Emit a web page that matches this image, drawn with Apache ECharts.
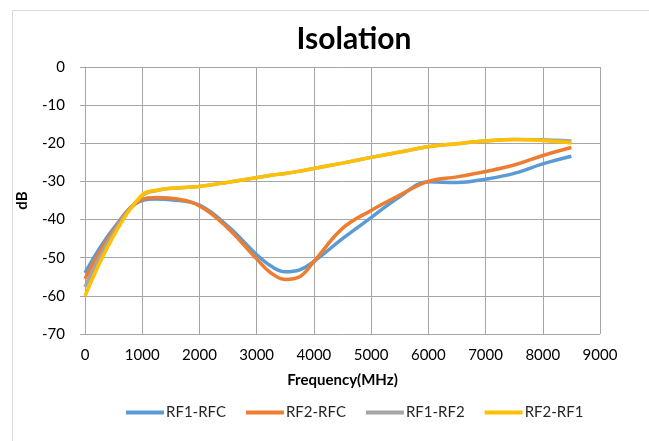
<!DOCTYPE html>
<html>
<head>
<meta charset="utf-8">
<script src="https://cdn.jsdelivr.net/npm/echarts@6/dist/echarts.min.js"></script>
<style>
html,body{margin:0;padding:0;background:#fff;}
#chart{width:649px;height:441px;}
</style>
</head>
<body>
<div id="chart"></div>
<script>
var freq = [0, 500, 1000, 1250, 1500, 2000, 2500, 3000, 3250, 3500, 3750, 4000, 4500, 5000, 5500, 6000, 6500, 7000, 7500, 8000, 8500];
var rf1Rfc = [-54.0, -42.3, -35.0, -34.6, -34.8, -36.2, -41.8, -49.2, -52.2, -53.7, -53.2, -51.0, -45.0, -39.5, -34.0, -30.1, -30.3, -29.4, -27.9, -25.4, -23.4];
var rf2Rfc = [-55.5, -42.8, -34.7, -34.2, -34.4, -36.4, -42.3, -50.3, -54.0, -55.7, -55.0, -51.0, -42.3, -37.6, -33.6, -30.0, -28.8, -27.4, -25.7, -23.2, -21.1];
var rf1Rf2 = [-57.7, -43.4, -33.7, -32.4, -31.8, -31.3, -30.2, -29.0, -28.4, -27.9, -27.3, -26.6, -25.2, -23.7, -22.3, -20.9, -20.1, -19.4, -19.0, -19.1, -19.4];
var rf2Rf1 = [-60.0, -44.3, -33.5, -32.3, -31.8, -31.3, -30.2, -29.0, -28.4, -27.9, -27.3, -26.6, -25.2, -23.7, -22.3, -20.9, -20.1, -19.4, -19.0, -19.3, -19.9];
var seriesNames = ['RF1-RFC', 'RF2-RFC', 'RF1-RF2', 'RF2-RF1'];
var seriesColors = ['#5B9BD5', '#ED7D31', '#A5A5A5', '#FFC000'];
var xTicks = [0, 1000, 2000, 3000, 4000, 5000, 6000, 7000, 8000, 9000];
var yTicks = [0, -10, -20, -30, -40, -50, -60, -70];

var FONT = 'Lato';
var allVals = [rf1Rfc, rf2Rfc, rf1Rf2, rf2Rf1];
function pairs(v){ return freq.map(function(f,i){ return [f, v[i]]; }); }

var chart = echarts.init(document.getElementById('chart'), null, {renderer:'canvas'});
chart.setOption({
  animation:false,
  backgroundColor:'#ffffff',
  textStyle:{fontFamily:FONT},
  graphic:[{
    type:'rect', left:10, top:8, shape:{width:700, height:500},
    style:{fill:'none', stroke:'#d9d9d9', lineWidth:1}, silent:true, z:-10
  }],
  title:{
    text:'Isolation', left:349, top:19, textAlign:'center',
    textStyle:{fontFamily:FONT, fontWeight:'bold', fontSize:30, color:'#000'}
  },
  legend:{
    bottom:16, left:121,
    icon:'rect', itemWidth:38, itemHeight:4, itemGap:20,
    textStyle:{fontFamily:FONT, fontSize:15, color:'#262626', padding:[0,0,0,-3]},
    data:seriesNames
  },
  grid:{left:85, right:49, top:67, bottom:107, containLabel:false},
  xAxis:{
    type:'value', min:0, max:9000, interval:1000,
    name:'Frequency(MHz)', nameLocation:'middle', nameGap:39,
    nameTextStyle:{fontFamily:FONT, fontWeight:'bold', fontSize:15, color:'#000'},
    axisLine:{show:true, lineStyle:{color:'#a6a6a6'}},
    axisTick:{show:false},
    axisLabel:{fontFamily:FONT, fontSize:15, color:'#000', margin:14,
      formatter:function(v){ return xTicks.indexOf(v)>=0 ? String(v) : ''; }},
    splitLine:{show:true, lineStyle:{color:'#a6a6a6', width:1}}
  },
  yAxis:{
    type:'value', min:-70, max:0, interval:10,
    name:'dB', nameLocation:'middle', nameGap:55, nameRotate:90,
    nameTextStyle:{fontFamily:FONT, fontWeight:'bold', fontSize:15, color:'#000'},
    axisLine:{show:true, lineStyle:{color:'#a6a6a6'}},
    axisTick:{show:true, length:5, inside:false, lineStyle:{color:'#a6a6a6'}},
    axisLabel:{fontFamily:FONT, fontSize:15, color:'#000', margin:20,
      formatter:function(v){ return yTicks.indexOf(v)>=0 ? String(v) : ''; }},
    splitLine:{show:true, lineStyle:{color:'#a6a6a6', width:1}}
  },
  series: allVals.map(function(v,i){
    return {
      name:seriesNames[i], type:'line', data:pairs(v),
      smooth:0.4, showSymbol:false, symbol:'none',
      lineStyle:{color:seriesColors[i], width:3.5},
      itemStyle:{color:seriesColors[i]},
      z:2+i
    };
  })
});
</script>
</body>
</html>
